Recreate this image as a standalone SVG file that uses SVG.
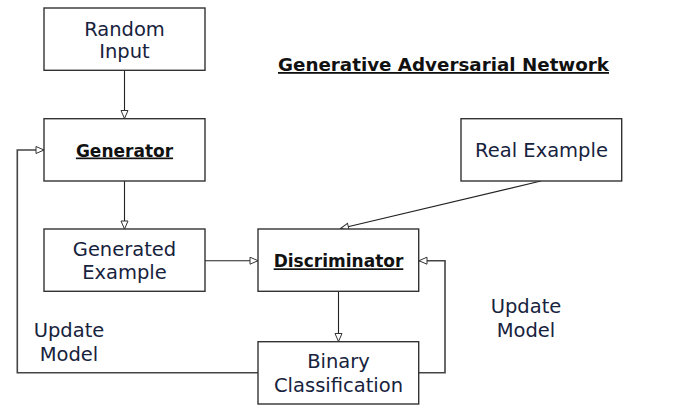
<svg xmlns="http://www.w3.org/2000/svg" width="673" height="410" viewBox="0 0 673 410">
<style>
.box{fill:#fff;stroke:#333;stroke-width:1.4}
.t{font-family:"DejaVu Sans",sans-serif;font-size:19.5px;fill:#17223d;text-anchor:middle}
.b{font-family:"DejaVu Sans",sans-serif;font-weight:bold;font-size:17px;fill:#111;text-anchor:middle;text-decoration:underline}
.c{fill:none;stroke:#222;stroke-width:1.1}
.loop{fill:none;stroke:#444;stroke-width:1.6}
</style>
<defs>
<marker id="arr" markerUnits="userSpaceOnUse" markerWidth="10" markerHeight="9" refX="9" refY="4" orient="auto">
<path d="M1,0.5 L9,4 L1,7.5 Z" fill="#fff" stroke="#333" stroke-width="1"/>
</marker>
</defs>
<rect width="673" height="410" fill="#fff"/>
<text x="443.5" y="71" font-family="DejaVu Sans, sans-serif" font-weight="bold" font-size="18px" fill="#111" text-anchor="middle" text-decoration="underline" textLength="331" lengthAdjust="spacingAndGlyphs">Generative Adversarial Network</text>
<g id="connectors">
<line class="c" x1="124.5" y1="70.5" x2="124.5" y2="118.5" marker-end="url(#arr)"/>
<line class="c" x1="124.5" y1="181" x2="124.5" y2="229" marker-end="url(#arr)"/>
<line class="c" x1="205" y1="260.7" x2="258" y2="260.7" marker-end="url(#arr)"/>
<line class="c" x1="541" y1="181" x2="340.5" y2="228.5" marker-end="url(#arr)"/>
<line class="c" x1="338.5" y1="291.5" x2="338.5" y2="341.5" marker-end="url(#arr)"/>
<polyline class="loop" points="419,372.7 445,372.7 445,260.7 419,260.7" marker-end="url(#arr)"/>
<polyline class="loop" points="258,372.7 17.3,372.7 17.3,150 44,150" marker-end="url(#arr)"/>
</g>
<g id="random-input">
<rect class="box" x="44" y="8" width="161" height="62.3"/>
<text class="t" x="124.5" y="35.5">Random</text>
<text class="t" x="124.5" y="58.3">Input</text>
</g>
<g id="generator">
<rect class="box" x="44" y="118.7" width="161" height="62.3"/>
<text class="b" x="124.5" y="156.5">Generator</text>
</g>
<g id="real-example">
<rect class="box" x="461" y="118.7" width="160.7" height="62.3"/>
<text class="t" x="541.5" y="157.3">Real Example</text>
</g>
<g id="generated-example">
<rect class="box" x="44" y="229" width="161" height="62.3"/>
<text class="t" x="124.5" y="255.7">Generated</text>
<text class="t" x="124.5" y="279.3">Example</text>
</g>
<g id="discriminator">
<rect class="box" x="258" y="229" width="160.7" height="62.3"/>
<text class="b" x="338.5" y="267.3">Discriminator</text>
</g>
<g id="binary-classification">
<rect class="box" x="258" y="341.7" width="160.7" height="62.3"/>
<text class="t" x="338.5" y="368.3">Binary</text>
<text class="t" x="338.5" y="391.7">Classification</text>
</g>
<g id="label-update-left">
<text class="t" x="69" y="336.7">Update</text>
<text class="t" x="69" y="360.7">Model</text>
</g>
<g id="label-update-right">
<text class="t" x="526" y="313">Update</text>
<text class="t" x="526" y="336.5">Model</text>
</g>
</svg>
